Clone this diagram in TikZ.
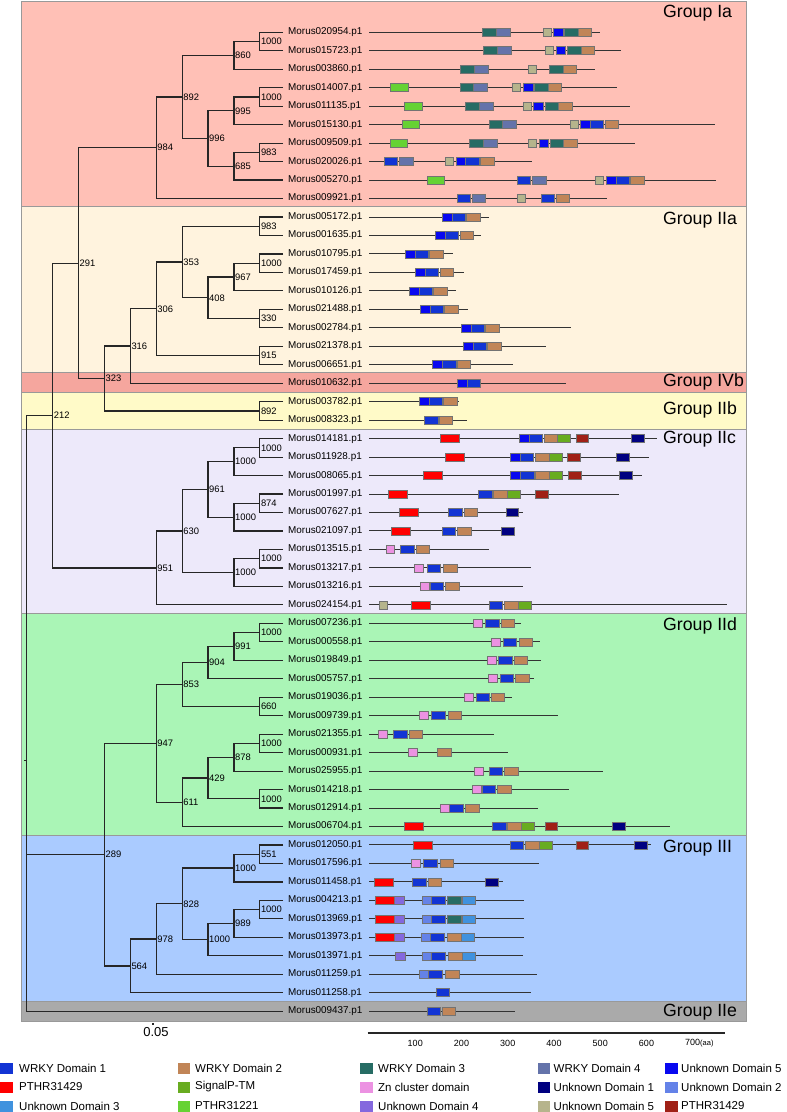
\documentclass[tikz,border=0pt]{standalone}
\usepackage{fontspec}
\setmainfont{Liberation Sans}
\usepackage{tikz}
\usetikzlibrary{calc,positioning}

\definecolor{wrkyA}{RGB}{18,52,212}
\definecolor{wrkyB}{RGB}{193,133,87}
\definecolor{wrkyC}{RGB}{38,108,100}
\definecolor{wrkyD}{RGB}{100,115,170}
\definecolor{unkE}{RGB}{8,8,240}
\definecolor{pthrR}{RGB}{255,0,0}
\definecolor{sigTM}{RGB}{104,172,32}
\definecolor{znC}{RGB}{236,146,226}
\definecolor{unkA}{RGB}{0,0,128}
\definecolor{unkB}{RGB}{100,130,232}
\definecolor{unkC}{RGB}{64,146,222}
\definecolor{pthrG}{RGB}{102,210,52}
\definecolor{unkD}{RGB}{132,104,222}
\definecolor{unkK}{RGB}{182,180,140}
\definecolor{pthrD}{RGB}{160,32,22}
\definecolor{grpIa}{RGB}{255,192,182}
\definecolor{grpIIa}{RGB}{255,243,222}
\definecolor{grpIVb}{RGB}{245,166,158}
\definecolor{grpIIb}{RGB}{255,250,200}
\definecolor{grpIIc}{RGB}{237,233,250}
\definecolor{grpIId}{RGB}{170,245,182}
\definecolor{grpIII}{RGB}{170,203,255}
\definecolor{grpIIe}{RGB}{170,170,170}

\newcommand\clade[5]{%
  \coordinate (#1) at ($(L#2 |- #3)!0.5!(L#2 |- #4)$);
  \draw[branch] (#3) -| (#1) |- (#4);
  \node[boot] (b#1) at (#1) {#5};}

\begin{document}
\begin{tikzpicture}[x=1pt, y=-1pt,
  band/.style={draw=black!40, line width=0.8pt},
  branch/.style={draw=black!85, line width=1.2pt},
  prot/.style={draw=black!80, line width=1pt},
  dom/.style={draw=black!55, line width=0.6pt},
  leaf/.style={anchor=west, inner sep=0pt, font=\fontsize{9.9}{11}\selectfont},
  boot/.style={anchor=west, inner sep=1pt, font=\fontsize{9.4}{10}\selectfont},
  grp/.style={anchor=west, inner sep=0pt, font=\fontsize{17.7}{19}\selectfont},
  tick/.style={inner sep=0pt, font=\fontsize{9}{10}\selectfont},
  legtxt/.style={anchor=west, inner sep=0pt, font=\fontsize{11.5}{12}\selectfont}
]
\useasboundingbox (0,0) rectangle (787,1112);

\draw[band, fill=grpIa]  (21,1)    rectangle (746,206);
\draw[band, fill=grpIIa] (21,206)  rectangle (746,372);
\draw[band, fill=grpIVb] (21,372)  rectangle (746,392);
\draw[band, fill=grpIIb] (21,392)  rectangle (746,429);
\draw[band, fill=grpIIc] (21,429)  rectangle (746,613);
\draw[band, fill=grpIId] (21,613)  rectangle (746,835);
\draw[band, fill=grpIII] (21,835)  rectangle (746,1001);
\draw[band, fill=grpIIe] (21,1001) rectangle (746,1021);

\node[grp] (gIa)  at (663,13)     {Group Ia};
\node[grp] (gIIa) at (663,220.5)  {Group IIa};
\node[grp] (gIVb) at (663,381.5)  {Group IVb};
\node[grp] (gIIb) at (663,409.7)  {Group IIb};
\node[grp] (gIIc) at (663,439.3)  {Group IIc};
\node[grp] (gIId) at (663,626)    {Group IId};
\node[grp] (gIII) at (663,848.3)  {Group III};
\node[grp] (gIIe) at (663,1012.5) {Group IIe};

\foreach \k in {0,...,9}
  \coordinate (L\k) at ({26.7+25.9*\k},0);

\foreach \i/\nm in {0/020954,1/015723,2/003860,3/014007,4/011135,5/015130,6/009509,7/020026,8/005270,9/009921,
  10/005172,11/001635,12/010795,13/017459,14/010126,15/021488,16/002784,17/021378,18/006651,19/010632,
  20/003782,21/008323,22/014181,23/011928,24/008065,25/001997,26/007627,27/021097,28/013515,29/013217,
  30/013216,31/024154,32/007236,33/000558,34/019849,35/005757,36/019036,37/009739,38/021355,39/000931,
  40/025955,41/014218,42/012914,43/006704,44/012050,45/017596,46/011458,47/004213,48/013969,49/013973,
  50/013971,51/011259,52/011258,53/009437}{
  \coordinate (t\i) at (283,{32.3+18.47*\i});
  \node[leaf] (n\i) at (288,{32.3+18.47*\i}) {Morus\nm.p1};
}

\clade{A1}{9}{t0}{t1}{1000}
\clade{A2}{8}{A1}{t2}{860}
\clade{A3}{9}{t3}{t4}{1000}
\clade{A4}{8}{A3}{t5}{995}
\clade{A5}{9}{t6}{t7}{983}
\clade{A6}{8}{A5}{t8}{685}
\clade{A7}{7}{A4}{A6}{996}
\clade{A8}{6}{A2}{A7}{892}
\clade{A9}{5}{A8}{t9}{984}
\clade{B1}{9}{t10}{t11}{983}
\clade{B2}{9}{t12}{t13}{1000}
\clade{B3}{8}{B2}{t14}{967}
\clade{B4}{9}{t15}{t16}{330}
\clade{B5}{7}{B3}{B4}{408}
\clade{B6}{6}{B1}{B5}{353}
\clade{B7}{9}{t17}{t18}{915}
\clade{B8}{5}{B6}{B7}{306}
\clade{B9}{4}{B8}{t19}{316}
\clade{C1}{9}{t20}{t21}{892}
\clade{C2}{3}{B9}{C1}{323}
\clade{C3}{2}{A9}{C2}{291}
\clade{D1}{9}{t22}{t23}{1000}
\clade{D2}{8}{D1}{t24}{1000}
\clade{D3}{9}{t25}{t26}{874}
\clade{D4}{8}{D3}{t27}{1000}
\clade{D5}{7}{D2}{D4}{961}
\clade{D6}{9}{t28}{t29}{1000}
\clade{D7}{8}{D6}{t30}{1000}
\clade{D8}{6}{D5}{D7}{630}
\clade{D9}{5}{D8}{t31}{951}
\clade{C4}{1}{C3}{D9}{212}
\clade{E1}{9}{t32}{t33}{1000}
\clade{E2}{8}{E1}{t34}{991}
\clade{E3}{7}{E2}{t35}{904}
\clade{E4}{9}{t36}{t37}{660}
\clade{E5}{6}{E3}{E4}{853}
\clade{E6}{9}{t38}{t39}{1000}
\clade{E7}{8}{E6}{t40}{878}
\clade{E8}{9}{t41}{t42}{1000}
\clade{E9}{7}{E7}{E8}{429}
\clade{E10}{6}{E9}{t43}{611}
\clade{E11}{5}{E5}{E10}{947}
\clade{F1}{9}{t44}{t45}{551}
\clade{F2}{8}{F1}{t46}{1000}
\clade{F3}{9}{t47}{t48}{1000}
\clade{F4}{8}{F3}{t49}{989}
\clade{F5}{7}{F4}{t50}{1000}
\clade{F6}{6}{F2}{F5}{828}
\clade{F7}{5}{F6}{t51}{978}
\clade{F8}{4}{F7}{t52}{564}
\clade{C5}{3}{E11}{F8}{289}

\coordinate (root) at ($0.3333*(L0 |- C4)+0.3333*(L0 |- C5)+0.3334*(L0 |- t53)$);
\draw[branch] (C4) -| (root) |- (t53);
\draw[branch] (C5) -| (root);
\draw[branch] (root) -- ++(-3,0);

\foreach \row/\xe in {0/600,1/621,2/595,3/617,4/630,5/715,6/635,7/532,8/716,9/607,10/489,11/481,12/453,
  13/464,14/456,15/468,16/571,17/546,18/513,19/566,20/459,21/467,22/657,23/649,24/642,25/619,26/523,
  27/514,28/489,29/531,30/523,31/727,32/521,33/540,34/541,35/534,36/512,37/558,38/494,39/508,40/603,
  41/569,42/538,43/670,44/651,45/539,46/503,47/524,48/524,49/524,50/523,51/537,52/531,53/515}{
  \coordinate (s\row) at (369,{32.3+18.47*\row});
  \coordinate (e\row) at (\xe,{32.3+18.47*\row});
  \draw[prot] (s\row) -- (e\row);
}

\foreach \row/\xa/\xb/\col in {
  0/482/496/wrkyC, 0/496/510/wrkyD, 0/543/551/unkK, 0/553/563/unkE, 0/564/578/wrkyC, 0/578/591/wrkyB,
  1/483/497/wrkyC, 1/497/511/wrkyD, 1/545/553/unkK, 1/556/565/unkE, 1/567/581/wrkyC, 1/581/594/wrkyB,
  2/460/474/wrkyC, 2/474/488/wrkyD, 2/528/536/unkK, 2/549/563/wrkyC, 2/563/576/wrkyB,
  3/390/408/pthrG, 3/460/473/wrkyC, 3/473/487/wrkyD, 3/512/520/unkK, 3/523/533/unkE, 3/534/548/wrkyC, 3/548/561/wrkyB,
  4/404/422/pthrG, 4/465/479/wrkyC, 4/479/493/wrkyD, 4/523/531/unkK, 4/533/543/unkE, 4/545/558/wrkyC, 4/558/572/wrkyB,
  5/402/419/pthrG, 5/489/502/wrkyC, 5/502/516/wrkyD, 5/570/578/unkK, 5/580/590/unkE, 5/590/603/wrkyA, 5/605/618/wrkyB,
  6/390/407/pthrG, 6/469/483/wrkyC, 6/483/497/wrkyD, 6/528/536/unkK, 6/539/548/unkE, 6/550/563/wrkyC, 6/563/577/wrkyB,
  7/384/397/wrkyA, 7/399/413/wrkyD, 7/445/453/unkK, 7/456/465/unkE, 7/465/479/wrkyA, 7/480/494/wrkyB,
  8/427/444/pthrG, 8/517/530/wrkyA, 8/532/546/wrkyD, 8/595/603/unkK, 8/606/616/unkE, 8/616/629/wrkyA, 8/630/644/wrkyB,
  9/457/470/wrkyA, 9/472/485/wrkyD, 9/517/525/unkK, 9/541/554/wrkyA, 9/556/569/wrkyB,
  10/442/452/unkE, 10/452/465/wrkyA, 10/466/480/wrkyB,
  11/435/445/unkE, 11/445/458/wrkyA, 11/460/473/wrkyB,
  12/405/415/unkE, 12/415/428/wrkyA, 12/429/443/wrkyB,
  13/415/425/unkE, 13/425/438/wrkyA, 13/440/453/wrkyB,
  14/409/419/unkE, 14/419/432/wrkyA, 14/433/447/wrkyB,
  15/420/430/unkE, 15/430/443/wrkyA, 15/444/458/wrkyB,
  16/461/471/unkE, 16/471/484/wrkyA, 16/485/499/wrkyB,
  17/463/473/unkE, 17/473/486/wrkyA, 17/487/501/wrkyB,
  18/432/442/unkE, 18/442/456/wrkyA, 18/457/470/wrkyB,
  19/457/467/unkE, 19/467/480/wrkyA,
  20/419/429/unkE, 20/429/442/wrkyA, 20/443/457/wrkyB,
  21/424/438/wrkyA, 21/439/452/wrkyB,
  22/440/459/pthrR, 22/519/529/unkE, 22/529/542/wrkyA, 22/544/557/wrkyB, 22/557/570/sigTM, 22/576/588/pthrD, 22/631/644/unkA,
  23/445/464/pthrR, 23/510/520/unkE, 23/520/533/wrkyA, 23/535/549/wrkyB, 23/549/562/sigTM, 23/567/580/pthrD, 23/616/629/unkA,
  24/423/442/pthrR, 24/510/520/unkE, 24/520/534/wrkyA, 24/535/549/wrkyB, 24/549/562/sigTM, 24/568/581/pthrD, 24/619/632/unkA,
  25/388/407/pthrR, 25/478/492/wrkyA, 25/493/507/wrkyB, 25/507/520/sigTM, 25/535/548/pthrD,
  26/399/418/pthrR, 26/448/462/wrkyA, 26/464/477/wrkyB, 26/506/518/unkA,
  27/391/410/pthrR, 27/442/455/wrkyA, 27/457/471/wrkyB, 27/501/514/unkA,
  28/386/394/znC, 28/400/414/wrkyA, 28/416/429/wrkyB,
  29/414/423/znC, 29/427/440/wrkyA, 29/443/457/wrkyB,
  30/420/429/znC, 30/430/443/wrkyA, 30/445/459/wrkyB,
  31/379/387/unkK, 31/411/430/pthrR, 31/489/502/wrkyA, 31/504/518/wrkyB, 31/518/531/sigTM,
  32/473/482/znC, 32/485/499/wrkyA, 32/501/514/wrkyB,
  33/491/500/znC, 33/503/516/wrkyA, 33/519/532/wrkyB,
  34/487/496/znC, 34/498/512/wrkyA, 34/514/527/wrkyB,
  35/488/497/znC, 35/500/513/wrkyA, 35/515/529/wrkyB,
  36/464/473/znC, 36/476/489/wrkyA, 36/491/504/wrkyB,
  37/419/428/znC, 37/431/445/wrkyA, 37/448/461/wrkyB,
  38/378/387/znC, 38/393/407/wrkyA, 38/409/422/wrkyB,
  39/408/417/znC, 39/437/451/wrkyB,
  40/474/483/znC, 40/489/502/wrkyA, 40/504/518/wrkyB,
  41/472/481/znC, 41/482/495/wrkyA, 41/497/511/wrkyB,
  42/440/449/znC, 42/449/463/wrkyA, 42/465/479/wrkyB,
  43/404/423/pthrR, 43/492/506/wrkyA, 43/507/521/wrkyB, 43/521/534/sigTM, 43/545/557/pthrD, 43/612/625/unkA,
  44/413/432/pthrR, 44/510/523/wrkyA, 44/525/539/wrkyB, 44/539/552/sigTM, 44/576/588/pthrD, 44/634/647/unkA,
  45/411/420/znC, 45/423/437/wrkyA, 45/440/453/wrkyB,
  46/374/393/pthrR, 46/412/426/wrkyA, 46/428/441/wrkyB, 46/485/498/unkA,
  47/375/394/pthrR, 47/394/404/unkD, 47/422/431/unkB, 47/431/445/wrkyA, 47/447/461/wrkyC, 47/462/475/unkC,
  48/375/394/pthrR, 48/394/404/unkD, 48/422/431/unkB, 48/431/445/wrkyA, 48/447/461/wrkyC, 48/462/475/unkC,
  49/375/394/pthrR, 49/394/404/unkD, 49/421/430/unkB, 49/430/444/wrkyA, 49/447/461/wrkyB, 49/461/474/unkC,
  50/395/405/unkD, 50/422/431/unkB, 50/431/445/wrkyA, 50/448/462/wrkyB, 50/462/475/unkC,
  51/419/428/unkB, 51/428/442/wrkyA, 51/445/459/wrkyB,
  52/436/449/wrkyA,
  53/427/440/wrkyA, 53/442/455/wrkyB}
  \draw[dom, fill=\col] (\xa,{32.3+18.47*\row-4}) rectangle (\xb,{32.3+18.47*\row+4});

\coordinate (sb0) at (152,1024);
\coordinate (sb1) at (153.5,1024);
\draw[branch] (sb0) -- (sb1);
\node[inner sep=0pt, font=\fontsize{13}{14}\selectfont] (sbl) at (156,1032) {0.05};

\coordinate (ax0) at (367.5,1033);
\coordinate (ax1) at (725,1033);
\draw[branch] (ax0) -- (ax1);
\foreach \v in {100,200,...,600}
  \node[tick] (tk\v) at ({369+0.4625*\v},1043) {\v};
\node[tick, anchor=west] (tk700) at (685,1043) {700{\fontsize{7.5}{8}\selectfont(aa)}};

\foreach \sx/\tx/\ly/\col/\txt in {
  0/19/1068/wrkyA/WRKY Domain 1, 177.5/195/1068/wrkyB/WRKY Domain 2, 360/378/1068/wrkyC/WRKY Domain 3,
  537.5/553.5/1068/wrkyD/WRKY Domain 4, 665/681/1068/unkE/Unknown Domain 5,
  0/19/1087/pthrR/PTHR31429, 177.5/195/1087/sigTM/SignalP-TM, 360/378/1087/znC/Zn cluster domain,
  537.5/553.5/1087/unkA/Unknown Domain 1, 665/681/1087/unkB/Unknown Domain 2,
  0/19/1106/unkC/Unknown Domain 3, 177.5/195/1106/pthrG/PTHR31221, 360/378/1106/unkD/Unknown Domain 4,
  537.5/553.5/1106/unkK/Unknown Domain 5, 665/681/1106/pthrD/PTHR31429}{
  \fill[\col] (\sx,{\ly-5.5}) rectangle ++(12.5,11);
  \node[legtxt] (lg\col) at (\tx,\ly) {\txt};
}
\end{tikzpicture}
\end{document}
